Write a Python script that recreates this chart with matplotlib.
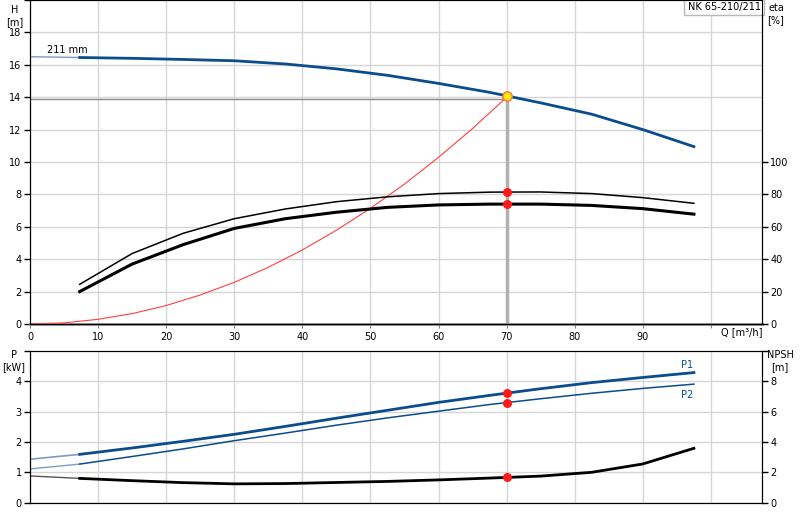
import matplotlib
matplotlib.use("Agg")
import matplotlib.pyplot as plt

plt.rcParams["font.family"] = ["DejaVu Sans"]
plt.rcParams["font.size"] = 7

# --- data ------------------------------------------------------------------
q = [7.3, 15, 22.5, 30, 37.5, 45, 52.5, 60, 67.5, 75, 82.5, 90, 97.5]
head = [16.45, 16.4, 16.33, 16.25, 16.05, 15.75, 15.35, 14.85, 14.3, 13.65, 12.95, 12.0, 10.95]
eta_p = [24.5, 43.5, 56.0, 65.0, 71.0, 75.5, 78.5, 80.5, 81.4, 81.5, 80.5, 78.0, 74.5]
eta_t = [20.0, 37.0, 49.0, 59.0, 65.0, 69.0, 72.0, 73.5, 74.0, 74.0, 73.2, 71.2, 67.8]
p1 = [1.59, 1.80, 2.02, 2.25, 2.51, 2.78, 3.04, 3.30, 3.53, 3.75, 3.95, 4.12, 4.28]
p2 = [1.27, 1.52, 1.77, 2.04, 2.29, 2.55, 2.79, 3.01, 3.23, 3.42, 3.60, 3.76, 3.90]
npsh = [1.60, 1.45, 1.32, 1.24, 1.26, 1.33, 1.40, 1.50, 1.62, 1.75, 2.00, 2.55, 3.58]

# extrapolated part towards Q = 0
q_ext = [0, 7.3]
head_ext = [16.5, 16.45]
p1_ext = [1.43, 1.59]
p2_ext = [1.11, 1.27]
npsh_ext = [1.76, 1.60]

# system curve
q_sys = [0, 5, 10, 15, 20, 25, 30, 35, 40, 45, 50, 55, 60, 65, 70]
h_sys = [0, 0.07, 0.29, 0.64, 1.14, 1.79, 2.57, 3.5, 4.57, 5.79, 7.14, 8.64, 10.29, 12.07, 14.0]

# duty point
q_duty = 70
h_duty = 14.1
h_line = 13.9
eta_duty = [81.4, 74.0]
p_duty = [3.6, 3.29]
npsh_duty = 1.67

q_ticks = [0, 10, 20, 30, 40, 50, 60, 70, 80, 90, 100]
q_labels = ["0", "10", "20", "30", "40", "50", "60", "70", "80", "90", ""]

BLUE = "#0b4c8c"
GRID = "#d6d6d6"
W, H = 800, 520

fig = plt.figure(figsize=(8, 5.2), dpi=100)
ax = fig.add_axes([30 / W, (H - 324) / H, 732 / W, 324 / H])
ax2 = fig.add_axes([30 / W, (H - 502.7) / H, 732 / W, 152 / H])

for a in (ax, ax2):
    a.set_xlim(0, 107.5)
    a.set_xticks(q_ticks)
    a.grid(True, color=GRID, lw=1)
    a.set_axisbelow(True)
    a.spines["top"].set_color("#b0b0b0")
    a.spines["left"].set_color("black")
    a.spines["right"].set_color("black")
    a.tick_params(axis="y", length=4, width=1, pad=2)
    a.tick_params(axis="x", length=3, pad=3, color="#808080")

# --- upper chart: head + efficiency ---------------------------------------
ax.set_ylim(0, 20)
ax.set_yticks(range(0, 21, 2))
ax.set_yticklabels([str(v) for v in range(0, 19, 2)] + [""])
ax.set_xticklabels(q_labels)
ax.spines["bottom"].set_color("#8a8a8a")
ax.spines["bottom"].set_linewidth(2)

ax.plot([0, q_duty], [h_line, h_line], color="#8c8c8c", lw=1, zorder=2)
ax.plot([q_duty, q_duty], [0, h_line], color="#b0b0b0", lw=2.5, zorder=2)

ax.plot(q_sys, h_sys, color="#ff4040", lw=0.8, zorder=3)
ax.plot(q_ext, head_ext, color="#7f9cc0", lw=1, zorder=3)
ax.plot(q, head, color=BLUE, lw=2, zorder=4)
ax.text(2.5, 16.75, "211 mm", fontsize=7)

eta = ax.twinx()
eta.set_ylim(0, 200)
eta.set_yticks(range(0, 101, 20))
eta.tick_params(axis="y", length=4, width=1, pad=2)
eta.plot(q, eta_p, color="black", lw=1.1, zorder=4)
eta.plot(q, eta_t, color="black", lw=2.2, zorder=4)
eta.scatter([q_duty, q_duty], eta_duty, s=30, color="#ff1a1a", zorder=6)
eta.scatter([q_duty], [h_duty * 10], s=45, color="#ffee00",
            edgecolor="#ff6a4a", linewidth=1, zorder=7)

ax.text(0.998, 0.995, "NK 65-210/211", transform=ax.transAxes, ha="right",
        va="top", fontsize=7,
        bbox=dict(boxstyle="square,pad=0.35", facecolor="white",
                  edgecolor="#b8b8b8", lw=1))

# --- lower chart: power + NPSH --------------------------------------------
ax2.set_ylim(0, 5)
ax2.set_yticks(range(0, 6))
ax2.set_yticklabels(["0", "1", "2", "3", "4", ""])
ax2.set_xticklabels([])
ax2.tick_params(axis="x", length=0)

ax2.plot(q_ext, p1_ext, color="#7f9cc0", lw=1.2)
ax2.plot(q_ext, p2_ext, color="#7f9cc0", lw=1)
ax2.plot(q, p1, color=BLUE, lw=2)
ax2.plot(q, p2, color=BLUE, lw=1.1)
ax2.scatter([q_duty, q_duty], p_duty, s=30, color="#ff1a1a", zorder=6)
ax2.text(96.5, 4.42, "P1", color=BLUE, fontsize=7, ha="center")
ax2.text(96.5, 3.45, "P2", color=BLUE, fontsize=7, ha="center")

ns = ax2.twinx()
ns.set_ylim(0, 10)
ns.set_yticks(range(0, 11, 2))
ns.set_yticklabels(["0", "2", "4", "6", "8", ""])
ns.tick_params(axis="y", length=4, width=1, pad=2)
ns.plot(q_ext, npsh_ext, color="#555555", lw=1)
ns.plot(q, npsh, color="black", lw=2)
ns.scatter([q_duty], [npsh_duty], s=30, color="#ff1a1a", zorder=6)

# --- axis captions --------------------------------------------------------
fig.text(15 / W, 1 - 5 / H, "H\n[m]", ha="center", va="top", fontsize=7, linespacing=1.3)
fig.text(776 / W, 1 - 3 / H, "eta\n[%]", ha="center", va="top", fontsize=7, linespacing=1.3)
fig.text(742 / W, 1 - 327 / H, "Q [m³/h]", ha="center", va="top", fontsize=7)
fig.text(14 / W, 1 - 350 / H, "P\n[kW]", ha="center", va="top", fontsize=7, linespacing=1.3)
fig.text(780 / W, 1 - 350 / H, "NPSH\n[m]", ha="center", va="top", fontsize=7, linespacing=1.3)

fig.savefig("out.png", dpi=100)
